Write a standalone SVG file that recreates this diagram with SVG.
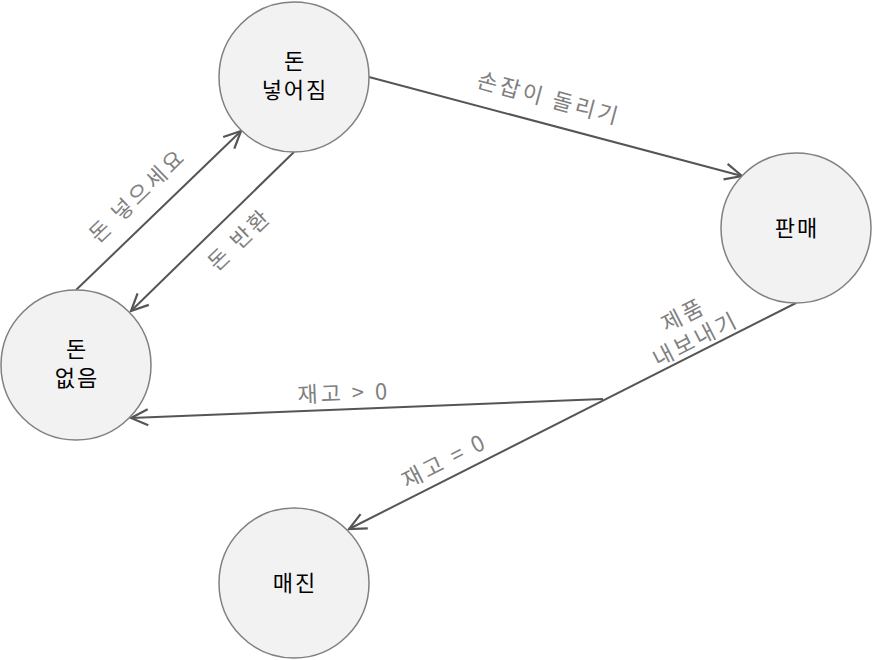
<svg xmlns="http://www.w3.org/2000/svg" width="873" height="660" viewBox="0 0 873 660">
<style>
.node{fill:#f2f2f2;stroke:#808080;stroke-width:1.5}
.nt{font-family:"Noto Sans CJK KR","Noto Sans",sans-serif;font-size:22px;letter-spacing:2px;fill:#000;text-anchor:middle}
.edge{fill:none;stroke:#555;stroke-width:2}
.lbl{font-family:"Noto Sans CJK KR","Noto Sans",sans-serif;font-size:22px;letter-spacing:3px;fill:#808080;text-anchor:middle}
</style>
<defs>
<marker id="arr" viewBox="0 0 22 22" refX="20" refY="11" markerWidth="22" markerHeight="22" markerUnits="userSpaceOnUse" orient="auto">
<path d="M3,3 L20,11 L3,19" fill="none" stroke="#555" stroke-width="2.2"/>
</marker>
</defs>
<g id="connectors">
<path class="edge" d="M76,290 L241,131" marker-end="url(#arr)"/>
<path class="edge" d="M294,152 L131,311" marker-end="url(#arr)"/>
<path class="edge" d="M369,77 L742,176" marker-end="url(#arr)"/>
<path class="edge" d="M796,303 L349,529" marker-end="url(#arr)"/>
<path class="edge" d="M603,399 L131,418" marker-end="url(#arr)"/>
<text class="lbl" transform="translate(143,201) rotate(-44)">돈 넣으세요</text>
<text class="lbl" transform="translate(245,245) rotate(-44)">돈 반환</text>
<text class="lbl" transform="translate(547,106) rotate(15)">손잡이 돌리기</text>
<text class="lbl" transform="translate(687,322) rotate(-27)"><tspan x="0" y="0">제품</tspan><tspan x="0" y="27">내보내기</tspan></text>
<text class="lbl" transform="translate(344,401) rotate(-2.3)">재고 &gt; 0</text>
<text class="lbl" transform="translate(448,468) rotate(-27)">재고 = 0</text>
</g>
<g id="n-inserted"><circle class="node" cx="294" cy="77" r="75"/><text class="nt" x="295" y="69">돈</text><text class="nt" x="295" y="98">넣어짐</text></g>
<g id="n-sale"><circle class="node" cx="796" cy="228" r="75"/><text class="nt" x="797" y="236">판매</text></g>
<g id="n-nomoney"><circle class="node" cx="76" cy="365" r="75"/><text class="nt" x="77" y="357">돈</text><text class="nt" x="77" y="386">없음</text></g>
<g id="n-soldout"><circle class="node" cx="294" cy="583" r="75"/><text class="nt" x="295" y="591">매진</text></g>
</svg>
